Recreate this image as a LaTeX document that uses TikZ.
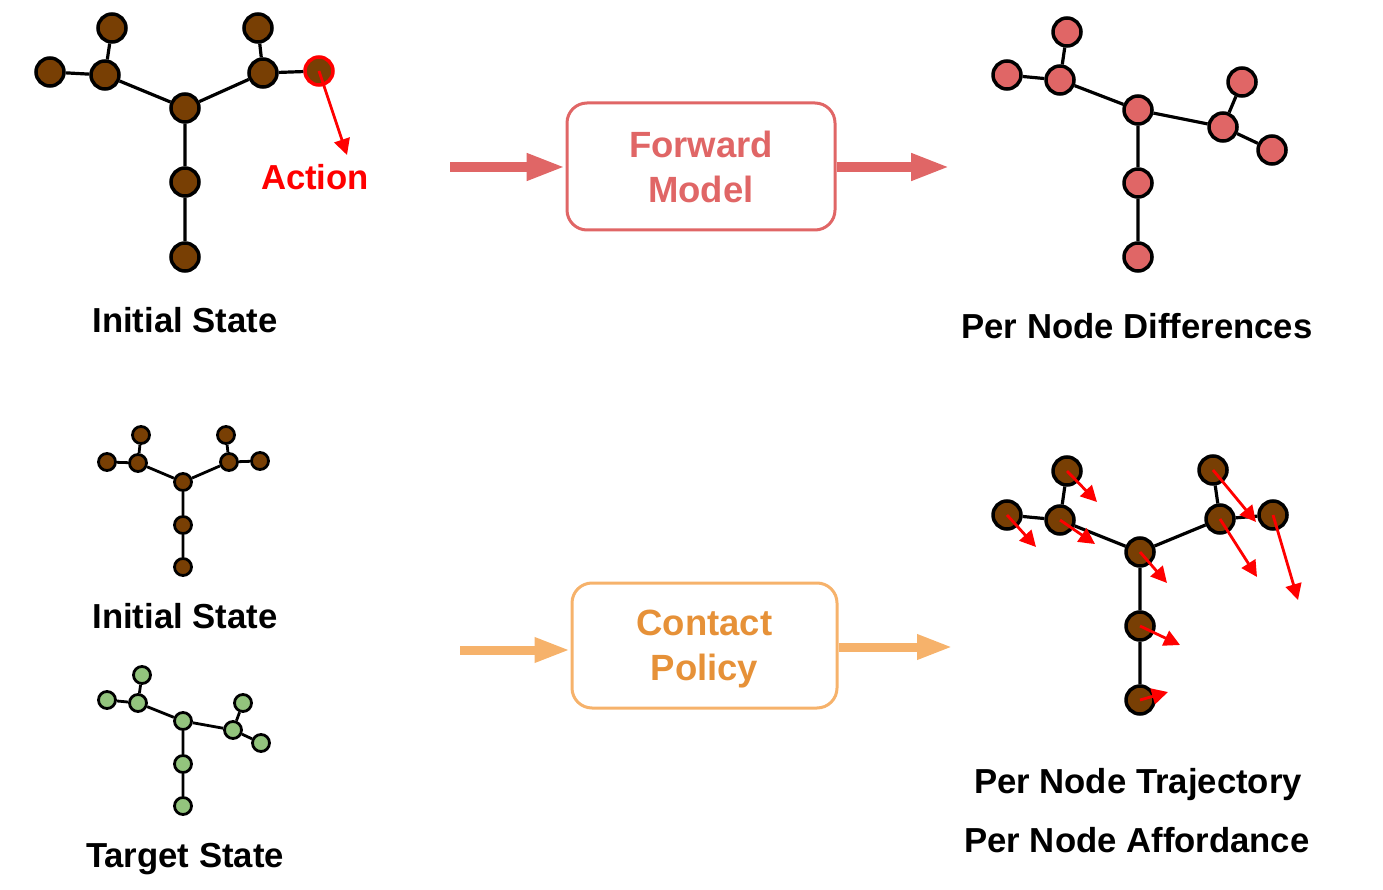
\documentclass[tikz,border=0pt]{standalone}
\usepackage{fontspec}
\setmainfont{Liberation Sans}
\usetikzlibrary{arrows.meta,positioning}

\definecolor{nodebrown}{HTML}{783F04}
\definecolor{diffred}{HTML}{E06666}
\definecolor{goalgreen}{HTML}{93C47D}
\definecolor{policyorange}{HTML}{F6B26B}
\definecolor{policytext}{HTML}{E69138}
\definecolor{actred}{HTML}{FF0000}

\tikzset{
	bignode/.style={circle, draw=black, line width=3.5pt, fill=nodebrown, minimum size=28pt, inner sep=0pt},
	smallnode/.style={circle, draw=black, line width=2.8pt, fill=nodebrown, minimum size=17pt, inner sep=0pt},
	bond/.style={draw=black, line width=3.2pt},
	thinbond/.style={draw=black, line width=2.8pt},
	lbl/.style={font=\fontsize{34.7}{40}\selectfont\bfseries, anchor=base, inner sep=0pt},
	modelbox/.style={draw, rounded corners=20pt, line width=3pt, minimum width=268pt, minimum height=127pt, align=center, font=\fontsize{36.5}{45}\selectfont\bfseries, inner sep=0pt, text depth=0pt},
	bigarrow/.style={line width=10pt, -{Triangle[length=39pt,width=25pt]}},
	moveto/.style={draw=actred, line width=2.8pt, -{Triangle[length=16pt,width=16pt]}}
}

\begin{document}
\begin{tikzpicture}[x=1pt,y=-1pt]
	\useasboundingbox (0,0) rectangle (1383,890);

	% initial state, top row
	\node[bignode] (a1) at (50,72) {};
	\node[bignode] (a2) at (105,75) {};
	\node[bignode] (a3) at (112,28) {};
	\node[bignode] (a4) at (185,108) {};
	\node[bignode] (a5) at (263,73) {};
	\node[bignode] (a6) at (258,28) {};
	\node[bignode, draw=actred] (a7) at (319,71) {};
	\node[bignode] (a8) at (185,182) {};
	\node[bignode] (a9) at (185,257) {};
	\draw[bond] (a1) -- (a2) (a2) -- (a3) (a2) -- (a4) (a4) -- (a5) (a5) -- (a6) (a5) -- (a7) (a4) -- (a8) (a8) -- (a9);
	\coordinate (push) at (347,155);
	\draw[moveto] (a7.center) -- (push);
	\node[lbl, text=actred] (action) at (315,190) {Action};
	\node[lbl] (init1) at (185,333) {Initial State};

	% forward model
	\node[modelbox, draw=diffred, text=diffred] (fwd) at (701,166.5) {Forward\\Model};
	\coordinate (fin) at (450,167);
	\coordinate (fout) at (950,167);
	\draw[bigarrow, diffred] (fin) -- (fin -| fwd.west);
	\draw[bigarrow, diffred] (fwd.east |- fout) -- (fout);

	% per node differences
	\node[bignode, fill=diffred] (b1) at (1007,75) {};
	\node[bignode, fill=diffred] (b2) at (1060,80) {};
	\node[bignode, fill=diffred] (b3) at (1067,32) {};
	\node[bignode, fill=diffred] (b4) at (1138,110) {};
	\node[bignode, fill=diffred] (b5) at (1223,127) {};
	\node[bignode, fill=diffred] (b6) at (1242,82) {};
	\node[bignode, fill=diffred] (b7) at (1272,150) {};
	\node[bignode, fill=diffred] (b8) at (1138,183) {};
	\node[bignode, fill=diffred] (b9) at (1138,257) {};
	\draw[bond] (b1) -- (b2) (b2) -- (b3) (b2) -- (b4) (b4) -- (b5) (b5) -- (b6) (b5) -- (b7) (b4) -- (b8) (b8) -- (b9);
	\node[lbl] (diff) at (1137,338) {Per Node Differences};

	% initial state, bottom row
	\node[smallnode] (c1) at (107,462) {};
	\node[smallnode] (c2) at (138,463) {};
	\node[smallnode] (c3) at (141,435) {};
	\node[smallnode] (c4) at (183,482) {};
	\node[smallnode] (c5) at (229,462) {};
	\node[smallnode] (c6) at (226,435) {};
	\node[smallnode] (c7) at (260,461) {};
	\node[smallnode] (c8) at (183,525) {};
	\node[smallnode] (c9) at (183,567) {};
	\draw[thinbond] (c1) -- (c2) (c2) -- (c3) (c2) -- (c4) (c4) -- (c5) (c5) -- (c6) (c5) -- (c7) (c4) -- (c8) (c8) -- (c9);
	\node[lbl] (init2) at (185,628) {Initial State};

	% target state
	\node[smallnode, fill=goalgreen] (d1) at (107,700) {};
	\node[smallnode, fill=goalgreen] (d2) at (138,703) {};
	\node[smallnode, fill=goalgreen] (d3) at (142,675) {};
	\node[smallnode, fill=goalgreen] (d4) at (183,721) {};
	\node[smallnode, fill=goalgreen] (d5) at (233,730) {};
	\node[smallnode, fill=goalgreen] (d6) at (243,703) {};
	\node[smallnode, fill=goalgreen] (d7) at (261,743) {};
	\node[smallnode, fill=goalgreen] (d8) at (183,764) {};
	\node[smallnode, fill=goalgreen] (d9) at (183,806) {};
	\draw[thinbond] (d1) -- (d2) (d2) -- (d3) (d2) -- (d4) (d4) -- (d5) (d5) -- (d6) (d5) -- (d7) (d4) -- (d8) (d8) -- (d9);
	\node[lbl] (target) at (185,867) {Target State};

	% contact policy
	\node[modelbox, draw=policyorange, text=policytext, minimum width=265pt, minimum height=125pt] (pol) at (704.5,645.5) {Contact\\Policy};
	\coordinate (pin) at (460,650);
	\coordinate (pout) at (953,647);
	\draw[bigarrow, policyorange, line width=9pt, -{Triangle[length=36pt,width=23pt]}] (pin) -- (pin -| pol.west);
	\draw[bigarrow, policyorange, line width=9pt, -{Triangle[length=36pt,width=23pt]}] (pol.east |- pout) -- (pout);

	% per node trajectory
	\node[bignode] (e1) at (1007,515) {};
	\node[bignode] (e2) at (1060,520) {};
	\node[bignode] (e3) at (1067,471) {};
	\node[bignode] (e4) at (1140,552) {};
	\node[bignode] (e5) at (1220,519) {};
	\node[bignode] (e6) at (1213,470) {};
	\node[bignode] (e7) at (1273,515) {};
	\node[bignode] (e8) at (1140,626) {};
	\node[bignode] (e9) at (1140,700) {};
	\draw[bond] (e1) -- (e2) (e2) -- (e3) (e2) -- (e4) (e4) -- (e5) (e5) -- (e6) (e5) -- (e7) (e4) -- (e8) (e8) -- (e9);
	\coordinate (t1) at (1036,547);
	\coordinate (t2) at (1095,544);
	\coordinate (t3) at (1097,502);
	\coordinate (t4) at (1167,583);
	\coordinate (t5) at (1257,577);
	\coordinate (t6) at (1256,522);
	\coordinate (t7) at (1298,600);
	\coordinate (t8) at (1180,645);
	\coordinate (t9) at (1168,692);
	\draw[moveto] (e1.center) -- (t1);
	\draw[moveto] (e2.center) -- (t2);
	\draw[moveto] (e3.center) -- (t3);
	\draw[moveto] (e4.center) -- (t4);
	\draw[moveto] (e5.center) -- (t5);
	\draw[moveto] (e6.center) -- (t6);
	\draw[moveto] (e7.center) -- (t7);
	\draw[moveto] (e8.center) -- (t8);
	\draw[moveto] (e9.center) -- (t9);
	\node[lbl] (traj) at (1138,793) {Per Node Trajectory};
	\node[lbl] (afford) at (1137,852) {Per Node Affordance};
\end{tikzpicture}
\end{document}
